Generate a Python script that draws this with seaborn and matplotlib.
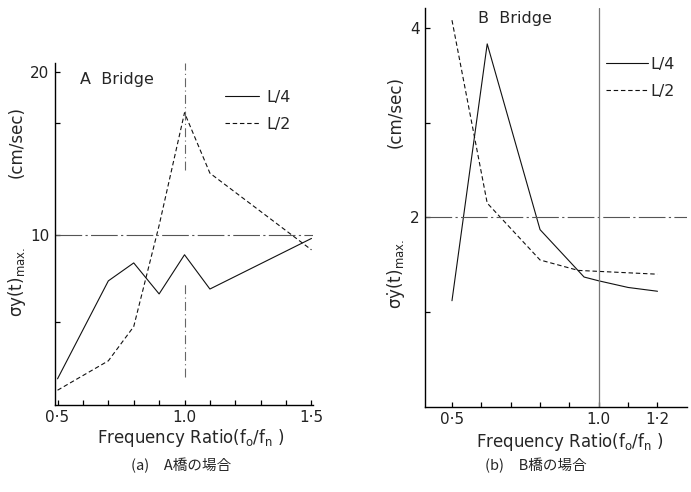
import numpy as np
import pandas as pd
import matplotlib
matplotlib.use('Agg')
import matplotlib.pyplot as plt
import seaborn as sns

# ---- datos ----
a_freq_l4 = [0.5, 0.7, 0.8, 0.9, 1.0, 1.1, 1.5]
a_val_l4 = [1.2, 7.2, 8.3, 6.4, 8.8, 6.7, 9.8]
a_freq_l2 = [0.5, 0.7, 0.8, 0.9, 1.0, 1.1, 1.5]
a_val_l2 = [0.5, 2.3, 4.4, 10.6, 17.5, 13.8, 9.1]

b_freq_l4 = [0.5, 0.62, 0.8, 0.95, 1.0, 1.1, 1.2]
b_val_l4 = [1.12, 3.83, 1.87, 1.37, 1.33, 1.26, 1.22]
b_freq_l2 = [0.5, 0.62, 0.8, 0.93, 1.2]
b_val_l2 = [4.08, 2.15, 1.55, 1.44, 1.40]

series_names = ['L/4', 'L/2']
a_xticks = [0.5, 0.6, 0.7, 0.8, 0.9, 1.0, 1.1, 1.2, 1.3, 1.4, 1.5]
a_xticklabels = ['0·5', '', '', '', '', '1.0', '', '', '', '', '1·5']
a_yticks = [4.7, 10, 16.9, 20]
a_yticklabels = ['', '10', '', '20']
b_xticks = [0.5, 0.6, 0.7, 0.8, 0.9, 1.0, 1.1, 1.2]
b_xticklabels = ['0·5', '', '', '', '', '1.0', '', '1·2']
b_yticks = [1, 2, 3, 4]
b_yticklabels = ['', '2', '', '4']

sns.set_style('ticks')
plt.rcParams['font.family'] = ['DejaVu Sans']
plt.rcParams['mathtext.fontset'] = 'dejavusans'


def make_df(fx4, v4, fx2, v2):
    d1 = pd.DataFrame({'freq': fx4, 'val': v4, 'pos': series_names[0]})
    d2 = pd.DataFrame({'freq': fx2, 'val': v2, 'pos': series_names[1]})
    return pd.concat([d1, d2], ignore_index=True)


df_a = make_df(a_freq_l4, a_val_l4, a_freq_l2, a_val_l2)
df_b = make_df(b_freq_l4, b_val_l4, b_freq_l2, b_val_l2)

fig = plt.figure(figsize=(6.91, 4.92), dpi=100)
ax_a = fig.add_axes([0.0796, 0.177, 0.373, 0.695])
ax_b = fig.add_axes([0.615, 0.173, 0.379, 0.811])

estilos = {'L/4': '', 'L/2': (4, 2.5)}
for ax, df in [(ax_a, df_a), (ax_b, df_b)]:
    sns.lineplot(data=df, x='freq', y='val', style='pos', dashes=estilos,
                 color='#111111', linewidth=0.8, sort=False, ax=ax, legend=True)
    sns.despine(ax=ax)
    ax.set_xlabel('')
    ax.set_ylabel('')
    for s in ['left', 'bottom']:
        ax.spines[s].set_linewidth(1.0)
        ax.spines[s].set_color('black')

# ---- panel A ----
ax_a.set_xlim(0.49, 1.505)
ax_a.set_ylim(-0.4, 20.55)
ax_a.set_xticks(a_xticks, a_xticklabels)
ax_a.set_yticks(a_yticks, a_yticklabels)
ax_a.axhline(10, color='#555555', lw=0.8, ls=(0, (24, 3, 2, 3)))
# linea vertical en f0/fn = 1.0 (interrumpida en el centro)
ax_a.plot([1.0, 1.0], [14.0, 20.55], color='#666666', lw=0.8, ls=(0, (8, 3, 1, 3)))
ax_a.plot([1.0, 1.0], [1.3, 7.1], color='#666666', lw=0.8, ls=(0, (8, 3, 1, 3)))
ax_a.legend(frameon=False, fontsize=11.5, handlelength=2.1, handletextpad=0.5,
            labelspacing=0.75, loc='upper left', borderpad=0, borderaxespad=0,
            bbox_to_anchor=(225 / 691, 1 - 90 / 492), bbox_transform=fig.transFigure)

# ---- panel B ----
ax_b.set_xlim(0.408, 1.3)
ax_b.set_ylim(0, 4.21)
ax_b.set_xticks(b_xticks, b_xticklabels)
ax_b.set_yticks(b_yticks, b_yticklabels)
ax_b.axhline(2, color='#555555', lw=0.8, ls=(0, (24, 3, 2, 3)))
ax_b.axvline(1.0, color='#777777', lw=0.9)
ax_b.legend(frameon=False, fontsize=11.5, handlelength=2.6, handletextpad=0.2,
            labelspacing=0.75, loc='upper left', borderpad=0, borderaxespad=0,
            bbox_to_anchor=(606 / 691, 1 - 57 / 492), bbox_transform=fig.transFigure)

for ax in [ax_a, ax_b]:
    ax.tick_params(direction='in', color='black', labelsize=11, pad=4,
                   labelcolor='#222222', length=3.5, width=0.9)

# ---- textos ----
fig.text(80 / 691, 1 - 79 / 492, 'A  Bridge', fontsize=11.5, va='center', ha='left')
fig.text(478 / 691, 1 - 19 / 492, 'B  Bridge', fontsize=11.5, va='center', ha='left')

xlab = r'Frequency Ratio(f$_{\rm o}$/f$_{\rm n}$ )'
fig.text(191 / 691, 1 - 438 / 492, xlab, fontsize=12, ha='center', va='center')
fig.text(570 / 691, 1 - 442 / 492, xlab, fontsize=12, ha='center', va='center')

fig.text(17 / 691, 1 - 142 / 492, '(cm/sec)', fontsize=12, rotation=90, ha='center', va='center')
fig.text(17 / 691, 1 - 282 / 492, r'σy(t)$_{\rm max.}$', fontsize=12, rotation=90,
         ha='center', va='center')
fig.text(396 / 691, 1 - 112 / 492, '(cm/sec)', fontsize=12, rotation=90, ha='center', va='center')
fig.text(396 / 691, 1 - 274 / 492, r'σẏ(t)$_{\rm max.}$', fontsize=12, rotation=90,
         ha='center', va='center')

cjk = ['Noto Sans CJK JP', 'DejaVu Sans']
fig.text(181 / 691, 1 - 465 / 492, '(a)　A橋の場合', fontsize=10.5, family=cjk,
         ha='center', va='center')
fig.text(536 / 691, 1 - 465 / 492, '(b)　B橋の場合', fontsize=10.5, family=cjk,
         ha='center', va='center')

fig.savefig('out.png', dpi=100)
plt.close(fig)
print("- Figura guardada en: 'out.png'")
